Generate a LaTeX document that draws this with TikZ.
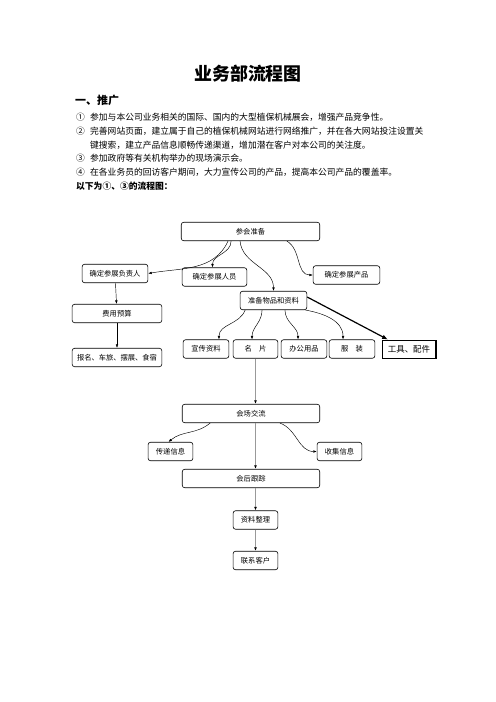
\documentclass[tikz,border=0pt]{standalone}
\usepackage{fontspec}
\usetikzlibrary{arrows.meta}
\newfontfamily\cjk{Noto Sans CJK SC}

\begin{document}
\begin{tikzpicture}[x=1bp, y=-1bp,
	box/.style={draw, rounded corners=2.5bp, line width=0.6bp, minimum width=#1, minimum height=18.5bp, inner sep=1bp, font=\cjk\fontsize{7.3}{8}\selectfont},
	arr/.style={line width=0.45bp, -{Latex[length=3.5bp,width=2.6bp]}},
	grayarr/.style={draw=black!40, line width=1.1bp, -{Latex[length=3.5bp,width=2.8bp,black]}},
	txt/.style={anchor=west, inner sep=0pt, font=\cjk\fontsize{8.8}{10}\selectfont}]
	\useasboundingbox (0,0) rectangle (496,702);
	% Heading and text
	\node[font=\cjk\bfseries\fontsize{18}{20}\selectfont] (title) at (248,74) {业务部流程图};
	\node[txt, font=\cjk\bfseries\fontsize{11}{12}\selectfont] (sec) at (75,100) {一、推广};
	\node[txt] (n1) at (76,117) {①};
	\node[txt] (t1) at (90,117) {参加与本公司业务相关的国际、国内的大型植保机械展会，增强产品竞争性。};
	\node[txt] (n2) at (76,131) {②};
	\node[txt] (t2) at (90,131) {完善网站页面，建立属于自己的植保机械网站进行网络推广，并在各大网站投注设置关};
	\node[txt] (t2b) at (90,145) {键搜索，建立产品信息顺畅传递渠道，增加潜在客户对本公司的关注度。};
	\node[txt] (n3) at (76,158) {③};
	\node[txt] (t3) at (90,158) {参加政府等有关机构举办的现场演示会。};
	\node[txt] (n4) at (76,172) {④};
	\node[txt] (t4) at (90,172) {在各业务员的回访客户期间，大力宣传公司的产品，提高本公司产品的覆盖率。};
	\node[txt, font=\cjk\bfseries\fontsize{8.8}{10}\selectfont] (flow) at (76,186) {以下为①、③的流程图：};
	% Nodes
	\node[box=139] (canhui) at (250.5,231.5) {参会准备};
	\node[box=66] (fuzeren) at (115,273.5) {确定参展负责人};
	\node[box=65] (renyuan) at (214.5,277) {确定参展人员};
	\node[box=67] (chanpin) at (346.5,275) {确定参展产品};
	\node[box=67] (wupin) at (273.5,300.5) {准备物品和资料};
	\node[box=90] (yusuan) at (117,313.5) {费用预算};
	\node[box=90] (baoxiao) at (117,357.5) {报名、车旅、摆展、食宿};
	\node[box=46] (xuanchuan) at (206,349) {宣传资料};
	\node[box=45] (mingpian) at (255.5,349) {名\quad 片};
	\node[box=46] (bangong) at (304,349) {办公用品};
	\node[box=46] (fuzhuang) at (352,349) {服\quad 装};
	\node[box=54, rounded corners=0pt, line width=1.2bp, font=\cjk\fontsize{8.5}{9}\selectfont] (gongju) at (409,349.5) {工具、配件};
	\node[box=138] (jiaoliu) at (251,413.5) {会场交流};
	\node[box=45] (chuandi) at (170.5,451.5) {传递信息};
	\node[box=45] (shouji) at (339.5,451.5) {收集信息};
	\node[box=138] (genzong) at (251,478.5) {会后跟踪};
	\node[box=45] (zhengli) at (255.5,520) {资料整理};
	\node[box=45] (lianxi) at (255.5,560.5) {联系客户};
	% Connectors
	\draw[arr] ([xshift=-22.5]canhui.south) to[out=245,in=10] (fuzeren.east);
	\draw[arr] ([xshift=-19.5]canhui.south) to[out=270,in=90] ([xshift=-2]renyuan.north);
	\draw[arr] ([xshift=-10.5]canhui.south) to[out=275,in=90] (wupin.north);
	\draw[arr] ([xshift=36.5]canhui.south) to[out=-30,in=180] (chanpin.west);
	\draw[arr] (fuzeren) -- (yusuan);
	\draw[arr] (yusuan) -- (baoxiao);
	\draw[arr] ([xshift=-28.5]wupin.south) to[out=250,in=90] ([xshift=13]xuanchuan.north);
	\draw[arr] ([xshift=-11.5]wupin.south) to[out=270,in=90] ([xshift=-3.5]mingpian.north);
	\draw[arr] ([xshift=11.5]wupin.south) to[out=270,in=90] ([xshift=-6]bangong.north);
	\draw[arr] ([xshift=32]wupin.south) to[out=-10,in=90] ([xshift=-9]fuzhuang.north);
	\draw[line width=1.2bp, -{Latex[length=6bp,width=4.5bp]}] ([yshift=3.5]wupin.east) -- ([xshift=-21]gongju.north);
	\draw[grayarr] (mingpian.south) -- (mingpian.south |- jiaoliu.north);
	\draw[arr] ([xshift=-41]jiaoliu.south) to[out=220,in=40] ([xshift=-2]chuandi.north);
	\draw[arr] ([xshift=29]jiaoliu.south) to[out=-20,in=180] (shouji.west);
	\draw[grayarr] (jiaoliu.south -| mingpian.south) -- (genzong.north -| mingpian.south);
	\draw[grayarr] (genzong.south -| zhengli.north) -- (zhengli.north);
	\draw[grayarr] (zhengli) -- (lianxi);
\end{tikzpicture}
\end{document}
